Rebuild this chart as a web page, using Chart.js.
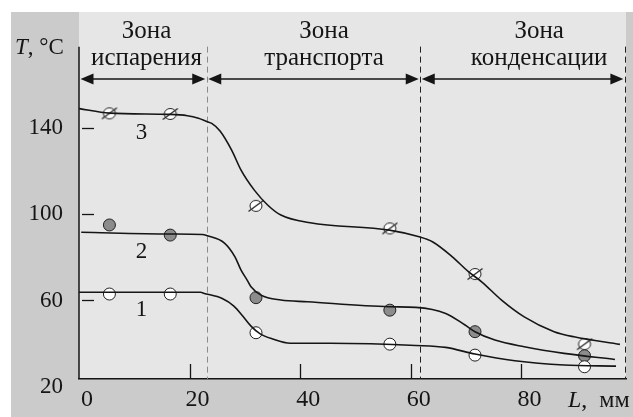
<!DOCTYPE html>
<html>
<head>
<meta charset="utf-8">
<script src="https://cdn.jsdelivr.net/npm/chart.js@4/dist/chart.umd.min.js"></script>
<style>
  html, body { margin: 0; padding: 0; background: #fff; }
  canvas { display: block; }
</style>
</head>
<body>
<canvas id="tempChart" width="633" height="417"></canvas>
<script>
// Distance along the heat pipe, mm, and temperature, °C
const markerX = [5.5, 16.5, 32.0, 56.2, 71.6, 91.4];
const marker1T = [63.0, 63.0, 45.0, 39.7, 34.6, 29.2];
const marker2T = [95.1, 90.4, 61.3, 55.5, 45.5, 34.3];
const marker3T = [147.0, 146.7, 104.0, 93.5, 72.3, 39.7];

// fitted curves
const curve1X = [0, 16.5, 22.0, 22.5, 25.9, 28.0, 29.6, 31.1, 32.7, 35.0, 38.2, 45.4, 60.9, 66.3, 71.6, 78.8, 87.7, 97.1];
const curve1T = [63.8, 63.8, 63.8, 63.4, 60.9, 57.4, 52.8, 48.1, 44.6, 42.1, 40.1, 40.1, 39.1, 38.2, 35.1, 32.0, 30.0, 29.5];
const curve2X = [0.4, 16.5, 22.3, 23.2, 26.3, 28.2, 29.3, 30.4, 31.1, 32.9, 36.5, 41.3, 56.1, 60.9, 66.3, 69.8, 71.6, 75.2, 80.5, 87.7, 96.9];
const curve2T = [91.7, 90.9, 90.7, 90.1, 86.7, 80.3, 74.1, 69.5, 66.4, 62.5, 60.2, 59.4, 57.1, 56.8, 54.0, 48.6, 45.5, 41.6, 38.5, 35.4, 32.6];
const curve3X = [0, 5.5, 16.4, 19.6, 21.6, 23.2, 24.0, 25.5, 27.6, 29.3, 31.7, 34.1, 36.5, 41.8, 56.1, 61.5, 63.9, 67.5, 70.4, 72.8, 76.4, 80.5, 85.9, 89.5, 97.8];
const curve3T = [149.2, 147.1, 146.5, 145.9, 144.7, 143.1, 142.3, 138.8, 129.9, 120.6, 111.3, 104.4, 99.7, 96.1, 92.7, 89.6, 87.3, 80.3, 73.4, 68.7, 60.2, 52.4, 45.5, 43.1, 39.6];

const curveNames = ['1', '2', '3'];
const curveNameX = [11.3, 11.3, 11.3];
const curveNameT = [55.5, 82.6, 137.7];

const xTicks = [0, 20, 40, 60, 80];
const yTicks = [20, 60, 100, 140];
const yMarks = [60, 100, 140];
const xMarks = [20, 40, 60, 80];

const zoneTitles = [['Зона', 'испарения'], ['Зона', 'транспорта'], ['Зона', 'конденсации']];
const zoneBounds = [0, 23.1, 61.7, 98.7];
const zoneCenters = [12.2, 44.3, 83.2];

const SERIF = '"Liberation Serif", "DejaVu Serif", serif';
const INK = '#151515';

function toPoints(xs, ys) {
    return xs.map((x, i) => ({ x: x, y: ys[i] }));
}

function hatchedMarker(r) {
    const c = document.createElement('canvas');
    const s = 2 * r + 6;
    c.width = s;
    c.height = s;
    const g = c.getContext('2d');
    const m = s / 2;
    g.fillStyle = '#fff';
    g.strokeStyle = '#222';
    g.lineWidth = 1;
    g.beginPath();
    g.ellipse(m, m, r, r - 0.5, 0, 0, Math.PI * 2);
    g.fill();
    g.stroke();
    g.lineWidth = 1.3;
    g.beginPath();
    g.moveTo(m - r - 1.5, m + r - 0.5);
    g.lineTo(m + r + 1.5, m - r + 0.5);
    g.stroke();
    return c;
}

const frame = {
    id: 'frame',
    beforeDraw(chart) {
        const { ctx, chartArea: a, width, height } = chart;
        ctx.save();
        ctx.fillStyle = '#fff';
        ctx.fillRect(0, 0, width, height);
        ctx.fillStyle = '#cbcbcb';
        ctx.fillRect(11, 12, width - 11, height - 12);
        ctx.fillStyle = '#e6e6e6';
        ctx.fillRect(a.left, a.top, a.right - a.left, a.bottom - a.top);
        ctx.restore();
    },
    beforeDatasetsDraw(chart) {
        const { ctx, chartArea: a, scales: { x, y } } = chart;
        const top = y.getPixelForValue(178);
        const arrowY = y.getPixelForValue(163);
        ctx.save();

        // y axis line
        ctx.strokeStyle = INK;
        ctx.lineWidth = 1.5;
        ctx.beginPath();
        ctx.moveTo(a.left, top);
        ctx.lineTo(a.left, a.bottom);
        ctx.stroke();

        // tick marks inside the plot
        ctx.lineWidth = 1.3;
        yMarks.forEach(v => {
            const py = Math.round(y.getPixelForValue(v)) + 0.5;
            ctx.beginPath();
            ctx.moveTo(a.left + 3, py);
            ctx.lineTo(a.left + 15, py);
            ctx.stroke();
        });
        xMarks.forEach(v => {
            const px = Math.round(x.getPixelForValue(v)) + 0.5;
            ctx.beginPath();
            ctx.moveTo(px, a.bottom - 15);
            ctx.lineTo(px, a.bottom);
            ctx.stroke();
        });

        // zone borders
        ctx.lineWidth = 1;
        ctx.setLineDash([6, 4]);
        zoneBounds.slice(1).forEach((v, i) => {
            const px = Math.round(x.getPixelForValue(v)) + 0.5;
            ctx.strokeStyle = i === 0 ? '#8a8a8a' : '#222';
            ctx.beginPath();
            ctx.moveTo(px, top);
            ctx.lineTo(px, a.bottom);
            ctx.stroke();
        });
        ctx.setLineDash([]);

        // double arrows
        ctx.strokeStyle = INK;
        ctx.fillStyle = INK;
        ctx.lineWidth = 1.5;
        for (let i = 0; i < zoneTitles.length; i++) {
            const x0 = x.getPixelForValue(zoneBounds[i]) + 1.5;
            const x1 = x.getPixelForValue(zoneBounds[i + 1]) - 1.5;
            ctx.beginPath();
            ctx.moveTo(x0 + 6, arrowY);
            ctx.lineTo(x1 - 6, arrowY);
            ctx.stroke();
            ctx.beginPath();
            ctx.moveTo(x0, arrowY);
            ctx.lineTo(x0 + 13, arrowY - 5.5);
            ctx.lineTo(x0 + 13, arrowY + 5.5);
            ctx.closePath();
            ctx.fill();
            ctx.beginPath();
            ctx.moveTo(x1, arrowY);
            ctx.lineTo(x1 - 13, arrowY - 5.5);
            ctx.lineTo(x1 - 13, arrowY + 5.5);
            ctx.closePath();
            ctx.fill();
        }
        ctx.restore();
    },
    afterDraw(chart) {
        const { ctx, scales: { x, y } } = chart;
        ctx.save();
        ctx.fillStyle = INK;
        ctx.textAlign = 'center';
        ctx.textBaseline = 'alphabetic';
        ctx.font = '25px ' + SERIF;
        zoneTitles.forEach((lines, i) => {
            const px = x.getPixelForValue(zoneCenters[i]);
            ctx.fillText(lines[0], px, 38);
            ctx.fillText(lines[1], px, 64.5);
        });

        ctx.font = '23px ' + SERIF;
        ctx.textBaseline = 'middle';
        curveNames.forEach((name, i) => {
            ctx.fillText(name, x.getPixelForValue(curveNameX[i]), y.getPixelForValue(curveNameT[i]));
        });

        // axis names with italic symbol
        ctx.textAlign = 'left';
        ctx.textBaseline = 'alphabetic';
        ctx.font = 'italic 23px ' + SERIF;
        ctx.fillText('T', 15, 54);
        let w = ctx.measureText('T').width;
        ctx.font = '23px ' + SERIF;
        ctx.fillText(', °C', 15 + w, 54);

        ctx.font = 'italic 24px ' + SERIF;
        ctx.fillText('L', 568, 406.5);
        w = ctx.measureText('L').width;
        ctx.font = '24px ' + SERIF;
        ctx.fillText(',  мм', 568 + w, 406.5);
        ctx.restore();
    }
};

const markerBase = {
    type: 'scatter',
    showLine: false,
    borderColor: '#222',
    borderWidth: 1,
    pointRadius: 6,
    pointHoverRadius: 6,
    order: 1
};

const curveBase = {
    type: 'scatter',
    showLine: true,
    pointRadius: 0,
    borderColor: INK,
    borderWidth: 1.6,
    cubicInterpolationMode: 'monotone',
    fill: false,
    order: 0
};

new Chart(document.getElementById('tempChart'), {
    type: 'scatter',
    data: {
        datasets: [
            Object.assign({}, curveBase, { label: 'curve 1', data: toPoints(curve1X, curve1T) }),
            Object.assign({}, curveBase, { label: 'curve 2', data: toPoints(curve2X, curve2T) }),
            Object.assign({}, curveBase, { label: 'curve 3', data: toPoints(curve3X, curve3T) }),
            Object.assign({}, markerBase, {
                label: '1', data: toPoints(markerX, marker1T),
                pointStyle: 'circle', backgroundColor: '#fff'
            }),
            Object.assign({}, markerBase, {
                label: '2', data: toPoints(markerX, marker2T),
                pointStyle: 'circle', backgroundColor: '#8c8c8c'
            }),
            Object.assign({}, markerBase, {
                label: '3', data: toPoints(markerX, marker3T),
                pointStyle: hatchedMarker(6)
            })
        ]
    },
    options: {
        responsive: false,
        devicePixelRatio: 1,
        animation: false,
        layout: { padding: { left: 11, top: 12, right: 0, bottom: 0 } },
        plugins: {
            legend: { display: false },
            tooltip: { enabled: false }
        },
        scales: {
            x: {
                type: 'linear',
                min: 0,
                max: 98.9,
                afterBuildTicks: scale => { scale.ticks = xTicks.map(v => ({ value: v })); },
                afterFit: scale => {
                    scale.height = 38;
                    scale.paddingLeft = 0;
                    scale.paddingRight = 0;
                },
                grid: { display: false, drawTicks: false },
                border: { display: true, color: INK, width: 1.5 },
                ticks: {
                    padding: 6,
                    labelOffset: 8,
                    maxRotation: 0,
                    autoSkip: false,
                    color: INK,
                    font: { family: SERIF, size: 24 }
                }
            },
            y: {
                type: 'linear',
                min: 23.5,
                max: 194.1,
                afterBuildTicks: scale => { scale.ticks = yTicks.map(v => ({ value: v })); },
                afterFit: scale => {
                    scale.width = 68;
                    scale.paddingTop = 0;
                    scale.paddingBottom = 0;
                },
                grid: { display: false, drawTicks: false },
                border: { display: false },
                ticks: {
                    padding: 16,
                    autoSkip: false,
                    color: INK,
                    font: { family: SERIF, size: 23 }
                }
            }
        }
    },
    plugins: [frame]
});
</script>
</body>
</html>
